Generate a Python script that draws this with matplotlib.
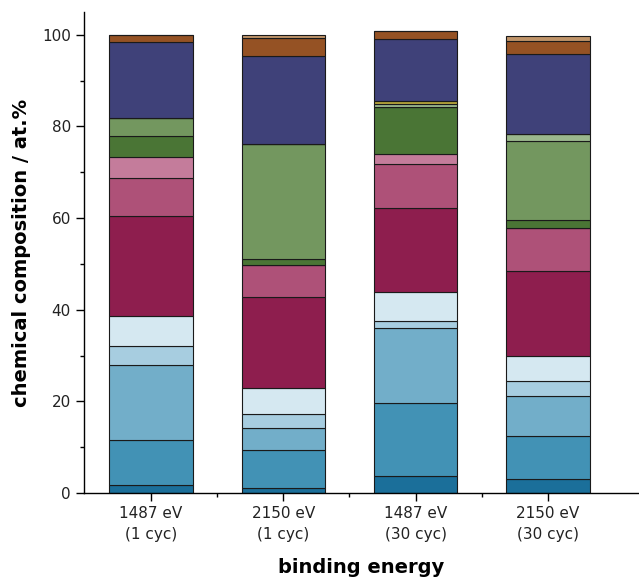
import matplotlib
matplotlib.use("Agg")
import matplotlib.pyplot as plt
from matplotlib.ticker import MultipleLocator, FixedLocator
import numpy as np

# samples / tick labels
samples = ["1487 eV\n(1 cyc)", "2150 eV\n(1 cyc)", "1487 eV\n(30 cyc)", "2150 eV\n(30 cyc)"]

# component fractions in at.%, stacked bottom to top
dark_blue = [1.7, 1.0, 3.8, 3.1]
mid_blue = [9.9, 8.4, 15.8, 9.3]
light_blue = [16.4, 4.7, 16.3, 8.7]
pale_blue = [4.0, 3.1, 1.7, 3.3]
ice_blue = [6.7, 5.7, 6.3, 5.5]
crimson = [21.8, 19.8, 18.3, 18.6]
rose = [8.3, 7.1, 9.6, 9.3]
light_rose = [4.6, 0.0, 2.2, 0.0]
dark_green = [4.6, 1.2, 10.2, 1.7]
green = [3.9, 25.1, 0.0, 17.4]
pale_green = [0.0, 0.0, 0.7, 1.5]
olive = [0.0, 0.0, 0.6, 0.0]
navy = [16.5, 19.2, 13.5, 17.5]
brown = [1.6, 4.0, 1.8, 2.8]
light_brown = [0.0, 0.6, 0.0, 1.1]

series = [dark_blue, mid_blue, light_blue, pale_blue, ice_blue, crimson, rose,
          light_rose, dark_green, green, pale_green, olive, navy, brown, light_brown]
colors = ["#1b6f9a", "#4292b5", "#72aec9", "#a7cde0", "#d5e8f1", "#8e1e4e", "#ae5178",
          "#c47c9b", "#4a7535", "#73975f", "#9bb78d", "#b5a33a", "#3f4179", "#955224", "#c09469"]

fig = plt.figure(figsize=(6.39, 5.81), dpi=100)
ax = fig.add_axes([0.1315, 0.1515, 0.8685, 0.828])

x = np.arange(len(samples))
bottom = np.zeros(len(samples))
for vals, col in zip(series, colors):
    vals = np.array(vals)
    ax.bar(x, vals, width=0.63, bottom=bottom, color=col,
           edgecolor="#1a1a1a", linewidth=0.8)
    bottom += vals

ax.set_xlim(-0.506, 3.689)
ax.set_ylim(0, 105)

ax.spines["top"].set_visible(False)
ax.spines["right"].set_visible(False)
for s in ("left", "bottom"):
    ax.spines[s].set_linewidth(1.0)

ax.set_xticks(x)
ax.set_xticklabels(samples, fontsize=11, linespacing=1.45, color="#222222")
ax.xaxis.set_minor_locator(FixedLocator([0.5, 1.5, 2.5]))
ax.yaxis.set_major_locator(MultipleLocator(20))
ax.yaxis.set_minor_locator(MultipleLocator(10))
ax.tick_params(axis="both", which="major", length=6, width=1.0, direction="out", labelsize=11)
ax.tick_params(axis="both", which="minor", length=3, width=1.0, direction="out")
ax.tick_params(axis="y", labelcolor="#222222")

ax.set_ylabel("chemical composition / at.%", fontsize=14, fontweight="bold", labelpad=8)
ax.set_xlabel("binding energy", fontsize=14, fontweight="bold", labelpad=12)

fig.savefig("out.png", dpi=100)
